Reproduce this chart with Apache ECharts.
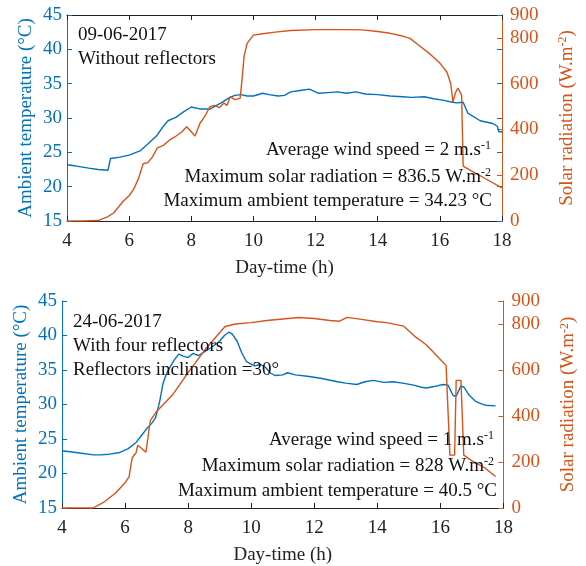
<!DOCTYPE html>
<html>
<head>
<meta charset="utf-8">
<script src="https://cdn.jsdelivr.net/npm/echarts@6/dist/echarts.min.js"></script>
<style>
  html, body { margin: 0; padding: 0; background: #fff; }
  #main { width: 586px; height: 566px; }
</style>
</head>
<body>
<div id="main"></div>
<script>
// 09-06-2017, without reflectors
var topTempHours = [4.0, 4.3, 4.7, 5.0, 5.32, 5.4, 5.7, 6.0, 6.35, 6.6, 6.9, 7.1, 7.25, 7.5, 7.75, 8.0, 8.3, 8.6, 8.8, 9.0, 9.2, 9.4, 9.6, 9.8, 10.0, 10.3, 10.5, 10.8, 11.0, 11.2, 11.5, 11.8, 12.1, 12.4, 12.7, 13.0, 13.3, 13.6, 14.0, 14.4, 14.8, 15.1, 15.5, 15.8, 16.1, 16.4, 16.55, 16.75, 16.9, 17.3, 17.7, 17.85, 17.9, 18.0];
var topTemp = [23.2, 23.0, 22.7, 22.5, 22.4, 24.1, 24.3, 24.6, 25.2, 26.2, 27.5, 28.8, 29.6, 30.1, 30.9, 31.6, 31.3, 31.3, 31.8, 32.3, 32.9, 33.3, 33.4, 33.2, 33.2, 33.6, 33.4, 33.2, 33.3, 33.8, 34.0, 34.2, 33.6, 33.7, 33.8, 33.6, 33.8, 33.5, 33.4, 33.2, 33.1, 33.0, 33.1, 32.8, 32.6, 32.3, 32.2, 32.3, 30.7, 29.6, 29.2, 28.8, 28.0, 28.0];
var topRadHours = [4.0, 4.5, 5.0, 5.3, 5.5, 5.8, 6.0, 6.15, 6.3, 6.45, 6.6, 6.75, 6.9, 7.1, 7.3, 7.5, 7.7, 7.85, 8.0, 8.12, 8.28, 8.45, 8.6, 8.75, 8.9, 9.05, 9.15, 9.25, 9.4, 9.57, 9.62, 9.7, 9.8, 10.0, 10.3, 10.7, 11.2, 12.0, 13.0, 13.5, 14.0, 14.4, 14.8, 15.04, 15.3, 15.68, 16.0, 16.23, 16.35, 16.42, 16.5, 16.58, 16.7, 16.75, 17.0, 17.4, 18.0];
var topRad = [0, 0, 2, 18, 35, 85, 110, 140, 185, 250, 255, 280, 318, 330, 354, 370, 390, 412, 390, 371, 427, 460, 500, 505, 495, 515, 505, 543, 530, 536, 600, 720, 777, 812, 818, 825, 832, 836, 836, 835, 828, 820, 808, 798, 770, 730, 690, 650, 600, 520, 560, 581, 550, 240, 220, 190, 145];

// 24-06-2017, with four reflectors
var botTempHours = [4.0, 4.5, 5.0, 5.2, 5.5, 5.8, 6.1, 6.35, 6.5, 6.67, 6.85, 6.97, 7.1, 7.2, 7.3, 7.4, 7.55, 7.7, 7.85, 8.0, 8.15, 8.33, 8.5, 8.75, 9.0, 9.15, 9.3, 9.4, 9.55, 9.7, 9.85, 10.1, 10.3, 10.45, 10.6, 10.75, 11.0, 11.15, 11.4, 11.78, 12.2, 12.73, 13.0, 13.35, 13.6, 13.88, 14.2, 14.5, 14.8, 15.15, 15.4, 15.55, 15.8, 16.08, 16.24, 16.4, 16.5, 16.65, 16.75, 16.9, 17.1, 17.3, 17.43, 17.75];
var botTemp = [23.3, 23.0, 22.7, 22.7, 22.8, 23.0, 23.6, 24.5, 25.4, 26.4, 27.3, 28.1, 30.5, 33.0, 34.3, 35.2, 36.4, 37.3, 37.0, 36.8, 37.4, 37.1, 37.6, 38.3, 39.2, 40.0, 40.5, 40.2, 39.2, 37.5, 36.2, 35.6, 35.8, 35.4, 34.6, 34.2, 34.3, 34.6, 34.3, 34.1, 33.8, 33.3, 33.1, 32.9, 33.3, 33.5, 33.2, 33.3, 33.1, 32.8, 32.5, 32.4, 32.6, 32.9, 32.8, 31.3, 31.2, 32.7, 32.5, 31.4, 30.5, 30.1, 29.9, 29.8];
var botRadHours = [4.0, 4.5, 4.98, 5.3, 5.7, 6.0, 6.13, 6.2, 6.24, 6.3, 6.35, 6.4, 6.5, 6.66, 6.72, 6.8, 7.0, 7.5, 8.02, 8.55, 9.17, 9.5, 10.0, 10.5, 11.0, 11.5, 12.0, 12.5, 12.8, 13.04, 13.5, 14.0, 14.3, 14.83, 15.2, 15.55, 15.9, 16.18, 16.3, 16.45, 16.5, 16.65, 16.74, 17.0, 17.4, 17.75];
var botRad = [0, 0, 0, 23, 65, 110, 136, 200, 222, 222, 240, 273, 262, 243, 300, 380, 420, 491, 593, 691, 789, 800, 806, 815, 822, 828, 824, 815, 812, 829, 820, 810, 806, 791, 745, 710, 660, 619, 230, 230, 555, 555, 230, 205, 175, 137];

var hourTicks = [4, 18, 2];
var tempTicks = [15, 45, 5];
var radTicks = [0, 900, 200];

var BLUE = '#0072BD';
var ORANGE = '#D95319';
var INK = '#222222';
var FONT = 'Liberation Serif';

function zip(xs, ys) {
    return xs.map(function (x, i) { return [x, ys[i]]; });
}

var supStyle = function (color) {
    return { fontSize: 12, fontFamily: FONT, color: color, verticalAlign: 'top', lineHeight: 20 };
};

function xAxisFor(grid, showName) {
    return {
        type: 'value', gridIndex: grid, position: 'bottom',
        min: hourTicks[0], max: hourTicks[1], interval: hourTicks[2],
        name: showName ? 'Day-time (h)' : '', nameLocation: 'middle', nameGap: 38,
        nameTextStyle: { fontFamily: FONT, fontSize: 19, color: INK },
        axisLine: { lineStyle: { color: INK, width: 1 } },
        axisTick: { inside: true, length: 5, lineStyle: { color: INK } },
        axisLabel: { fontFamily: FONT, fontSize: 19, color: INK, margin: 11 },
        splitLine: { show: false }
    };
}

function tempAxis(grid) {
    return {
        type: 'value', gridIndex: grid, position: 'left',
        min: tempTicks[0], max: tempTicks[1], interval: tempTicks[2],
        name: 'Ambient temperature (°C)', nameLocation: 'middle', nameGap: 31, nameRotate: 90,
        nameMoveOverlap: false,
        nameTextStyle: { fontFamily: FONT, fontSize: 19, color: BLUE },
        axisLine: { show: true, lineStyle: { color: BLUE, width: 1 } },
        axisTick: { show: true, inside: true, length: 5, lineStyle: { color: BLUE } },
        axisLabel: { fontFamily: FONT, fontSize: 19, color: BLUE, margin: 5 },
        splitLine: { show: false }
    };
}

function radAxis(grid) {
    return {
        type: 'value', gridIndex: grid, position: 'right',
        min: radTicks[0], max: radTicks[1], interval: radTicks[2],
        name: 'Solar radiation (W.m{sup|-2})', nameLocation: 'middle', nameGap: 55, nameRotate: 90,
        nameTextStyle: { fontFamily: FONT, fontSize: 19, color: ORANGE, rich: { sup: supStyle(ORANGE) } },
        axisLine: { show: true, lineStyle: { color: ORANGE, width: 1 } },
        axisTick: { show: true, inside: true, length: 5, lineStyle: { color: ORANGE } },
        axisLabel: { fontFamily: FONT, fontSize: 19, color: ORANGE, margin: 8 },
        splitLine: { show: false }
    };
}

function label(x, y, text, align) {
    return {
        type: 'text', x: x, y: y, z: 10,
        style: {
            text: text, font: '19px "Liberation Serif"', fill: '#111',
            align: align || 'left', verticalAlign: 'middle',
            rich: { sup: { fontSize: 12, fontFamily: FONT, fill: '#111', verticalAlign: 'top', lineHeight: 20 } }
        }
    };
}

var myChart = echarts.init(document.getElementById('main'));
myChart.setOption({
    backgroundColor: '#fff',
    animation: false,
    grid: [
        { left: 67, top: 15, width: 435, height: 206 },
        { left: 62, top: 301, width: 446, height: 211 }
    ],
    xAxis: [
        xAxisFor(0, true),
        {
            type: 'value', gridIndex: 0, position: 'top',
            min: hourTicks[0], max: hourTicks[1], interval: hourTicks[2],
            axisLine: { lineStyle: { color: INK, width: 1 } },
            axisTick: { inside: true, length: 5, lineStyle: { color: INK } },
            axisLabel: { show: false },
            splitLine: { show: false }
        },
        xAxisFor(1, true)
    ],
    yAxis: [
        tempAxis(0),
        radAxis(0),
        {
            type: 'value', gridIndex: 0, position: 'right',
            min: tempTicks[0], max: tempTicks[1], interval: tempTicks[2],
            axisLine: { show: false },
            axisTick: { show: true, inside: true, length: 5, lineStyle: { color: BLUE } },
            axisLabel: { show: false },
            splitLine: { show: false }
        },
        tempAxis(1),
        radAxis(1)
    ],
    series: [
        { type: 'line', xAxisIndex: 0, yAxisIndex: 0, data: zip(topTempHours, topTemp), showSymbol: false, lineStyle: { color: BLUE, width: 1.4 }, itemStyle: { color: BLUE } },
        { type: 'line', xAxisIndex: 0, yAxisIndex: 1, data: zip(topRadHours, topRad), showSymbol: false, lineStyle: { color: ORANGE, width: 1.4 }, itemStyle: { color: ORANGE } },
        { type: 'line', xAxisIndex: 2, yAxisIndex: 3, data: zip(botTempHours, botTemp), showSymbol: false, lineStyle: { color: BLUE, width: 1.4 }, itemStyle: { color: BLUE } },
        { type: 'line', xAxisIndex: 2, yAxisIndex: 4, data: zip(botRadHours, botRad), showSymbol: false, lineStyle: { color: ORANGE, width: 1.4 }, itemStyle: { color: ORANGE } }
    ],
    graphic: [
        label(78, 35, '09-06-2017'),
        label(78, 59, 'Without reflectors'),
        label(491, 150, 'Average wind speed = 2 m.s{sup|-1}', 'right'),
        label(491, 177, 'Maximum solar radiation = 836.5 W.m{sup|-2}', 'right'),
        label(492, 201, 'Maximum ambient temperature = 34.23 °C', 'right'),
        label(73, 322, '24-06-2017'),
        label(73, 346, 'With four reflectors'),
        label(73, 370, 'Reflectors inclination =30°'),
        label(494, 440, 'Average wind speed = 1 m.s{sup|-1}', 'right'),
        label(494, 466, 'Maximum solar radiation = 828 W.m{sup|-2}', 'right'),
        label(497, 491, 'Maximum ambient temperature = 40.5 °C', 'right')
    ]
});
</script>
</body>
</html>
